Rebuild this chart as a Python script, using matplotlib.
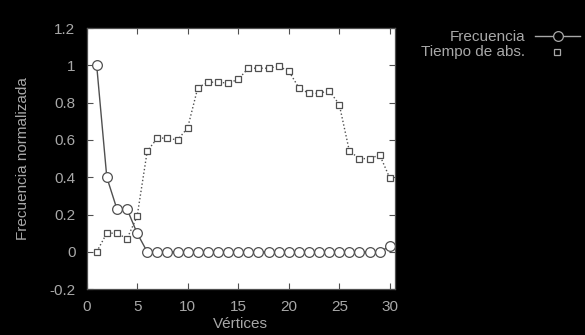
import numpy as np
import matplotlib
matplotlib.use('Agg')
import matplotlib.pyplot as plt
from matplotlib.lines import Line2D
from matplotlib.ticker import FormatStrFormatter

# data
vertices = np.arange(1, 31)
frecuencia = [1.0, 0.40, 0.23, 0.23, 0.10, 0, 0, 0, 0, 0,
              0, 0, 0, 0, 0, 0, 0, 0, 0, 0,
              0, 0, 0, 0, 0, 0, 0, 0, 0, 0.03]
tiempo = [0.0, 0.10, 0.10, 0.07, 0.19, 0.54, 0.61, 0.61, 0.60, 0.665,
          0.88, 0.91, 0.91, 0.905, 0.925, 0.985, 0.985, 0.985, 0.995, 0.97,
          0.88, 0.85, 0.85, 0.865, 0.79, 0.54, 0.50, 0.50, 0.52, 0.395]
xticks = [0, 5, 10, 15, 20, 25, 30]
yticks = [-0.2, 0, 0.2, 0.4, 0.6, 0.8, 1, 1.2]
labels = ['Frecuencia', 'Tiempo de abs.']

plt.rcParams['font.family'] = ['Liberation Sans', 'DejaVu Sans']
txt = '#a8a8a8'
ink = '#505050'

fig = plt.figure(figsize=(5.85, 3.35), dpi=100, facecolor='black')
ax = fig.add_axes([0.148, 0.137, 0.527, 0.779])
ax.set_facecolor('white')

# frecuencia: solid line with big open circles
ax.plot(vertices, frecuencia, '-', color=ink, lw=1.0, marker='o', ms=7,
        mfc='white', mec=ink, mew=0.9, zorder=3)
# tiempo: dotted line with small open squares
ax.plot(vertices, tiempo, ':', color=ink, lw=1.0, zorder=2)
ax.plot(vertices, tiempo, 's', ms=5, mfc='white', mec=ink, mew=0.9,
        linestyle='none', zorder=2)

ax.set_xlim(0, 30.5)
ax.set_ylim(-0.2, 1.2)
ax.set_xticks(xticks)
ax.set_yticks(yticks)
ax.yaxis.set_major_formatter(FormatStrFormatter('%g'))
ax.tick_params(direction='in', top=True, right=True, length=4, width=0.8,
               color=ink, labelcolor=txt, labelsize=11, pad=8)
for s in ax.spines.values():
    s.set_color(ink)
    s.set_linewidth(0.9)

ax.set_xlabel('Vértices', color=txt, fontsize=11, labelpad=2)
ax.set_ylabel('Frecuencia normalizada', color=txt, fontsize=11, labelpad=14)

# legend drawn outside at the top right, text right aligned
fig.text(525 / 585, 1 - 37 / 335, labels[0], color=txt, fontsize=11,
         ha='right', va='center')
fig.text(525 / 585, 1 - 52 / 335, labels[1], color=txt, fontsize=11,
         ha='right', va='center')
fig.add_artist(Line2D([535 / 585, 580 / 585], [1 - 36 / 335, 1 - 36 / 335],
                      transform=fig.transFigure, color=txt, lw=1.0))
fig.add_artist(Line2D([558 / 585], [1 - 36 / 335], transform=fig.transFigure,
                      marker='o', ms=7, mfc='black', mec=txt, mew=0.9))
fig.add_artist(Line2D([557 / 585], [1 - 52 / 335], transform=fig.transFigure,
                      marker='s', ms=5, mfc='black', mec=txt, mew=0.9))

fig.savefig('out.png', dpi=100, facecolor='black')
